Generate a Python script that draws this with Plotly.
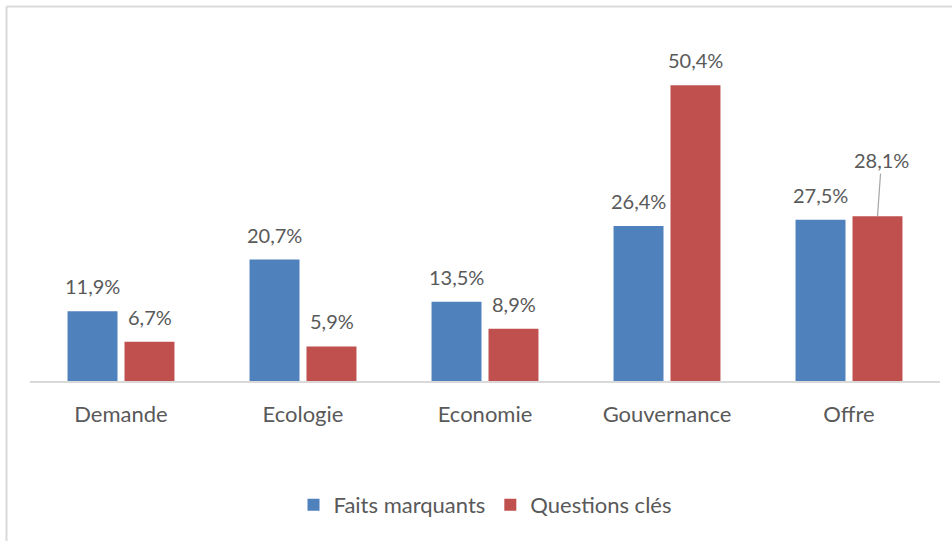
import plotly.graph_objects as go

categories = ["Demande", "Ecologie", "Economie", "Gouvernance", "Offre"]
faits_marquants = [11.9, 20.7, 13.5, 26.4, 27.5]
questions_cles = [6.7, 5.9, 8.9, 50.4, 28.1]
series_names = ["Faits marquants", "Questions clés"]

BLUE = "#4f81bd"
RED = "#c0504d"
TEXT = "#595959"
GRID = "#d9d9d9"
FONT = "Lato, 'Open Sans', sans-serif"

W, H = 952, 541
ML, MR, MT, MB = 30, 12, 29, 160
Y_MAX = 60.0
BAR_SHIFT = 28.5  # half distance between the two bars of a group, px
LABEL_SIZE = 20


def fmt(v):
    return f"{v:.1f}%".replace(".", ",")


fig = go.Figure()
fig.add_trace(go.Bar(name=series_names[0], x=categories, y=faits_marquants,
                     marker=dict(color=BLUE, line=dict(width=0))))
fig.add_trace(go.Bar(name=series_names[1], x=categories, y=questions_cles,
                     marker=dict(color=RED, line=dict(width=0))))

# value labels above each bar
annotations = []
for values, shift in ((faits_marquants, -BAR_SHIFT), (questions_cles, BAR_SHIFT)):
    for cat, v in zip(categories, values):
        if cat == "Offre" and shift > 0:
            # this one sits higher, tied to its bar by a leader line
            annotations.append(dict(
                x=cat, y=v, xshift=shift, text=fmt(v), showarrow=True,
                arrowhead=0, arrowwidth=1.2, arrowcolor="#a6a6a6",
                ax=4, ay=-56, standoff=0,
                font=dict(family=FONT, size=LABEL_SIZE, color=TEXT)))
        else:
            annotations.append(dict(
                x=cat, y=v, xshift=shift, yshift=25, text=fmt(v),
                showarrow=False, yanchor="middle", xanchor="center",
                font=dict(family=FONT, size=LABEL_SIZE, color=TEXT)))

# outer chart frame (left and top edges)
plot_w = W - ML - MR
plot_h = H - MT - MB
px_x = lambda p: (p - ML) / plot_w
px_y = lambda p: (H - MB - p) / plot_h
shapes = [
    dict(type="line", xref="paper", yref="paper",
         x0=px_x(6.5), x1=px_x(W + 5), y0=px_y(6.5), y1=px_y(6.5),
         line=dict(color=GRID, width=2)),
    dict(type="line", xref="paper", yref="paper",
         x0=px_x(6.5), x1=px_x(6.5), y0=px_y(6.5), y1=px_y(H + 5),
         line=dict(color=GRID, width=2)),
]

fig.update_layout(
    width=W, height=H,
    margin=dict(l=ML, r=MR, t=MT, b=MB),
    paper_bgcolor="white", plot_bgcolor="white",
    barmode="group", bargap=0.374, bargroupgap=0.123,
    font=dict(family=FONT, size=19, color=TEXT),
    annotations=annotations, shapes=shapes,
    showlegend=True,
    legend=dict(orientation="h", x=0.5, xanchor="center",
                y=px_y(505), yanchor="middle",
                font=dict(family=FONT, size=22, color=TEXT),
                itemclick=False),
    xaxis=dict(showline=True, linecolor=GRID, linewidth=2,
               ticks="outside", ticklen=13, tickcolor="rgba(0,0,0,0)",
               tickfont=dict(family=FONT, size=22, color=TEXT),
               showgrid=False, fixedrange=True),
    yaxis=dict(range=[0, Y_MAX], visible=False, showgrid=False,
               zeroline=False, fixedrange=True),
)

fig.write_html("out.html", config=dict(displayModeBar=False))
